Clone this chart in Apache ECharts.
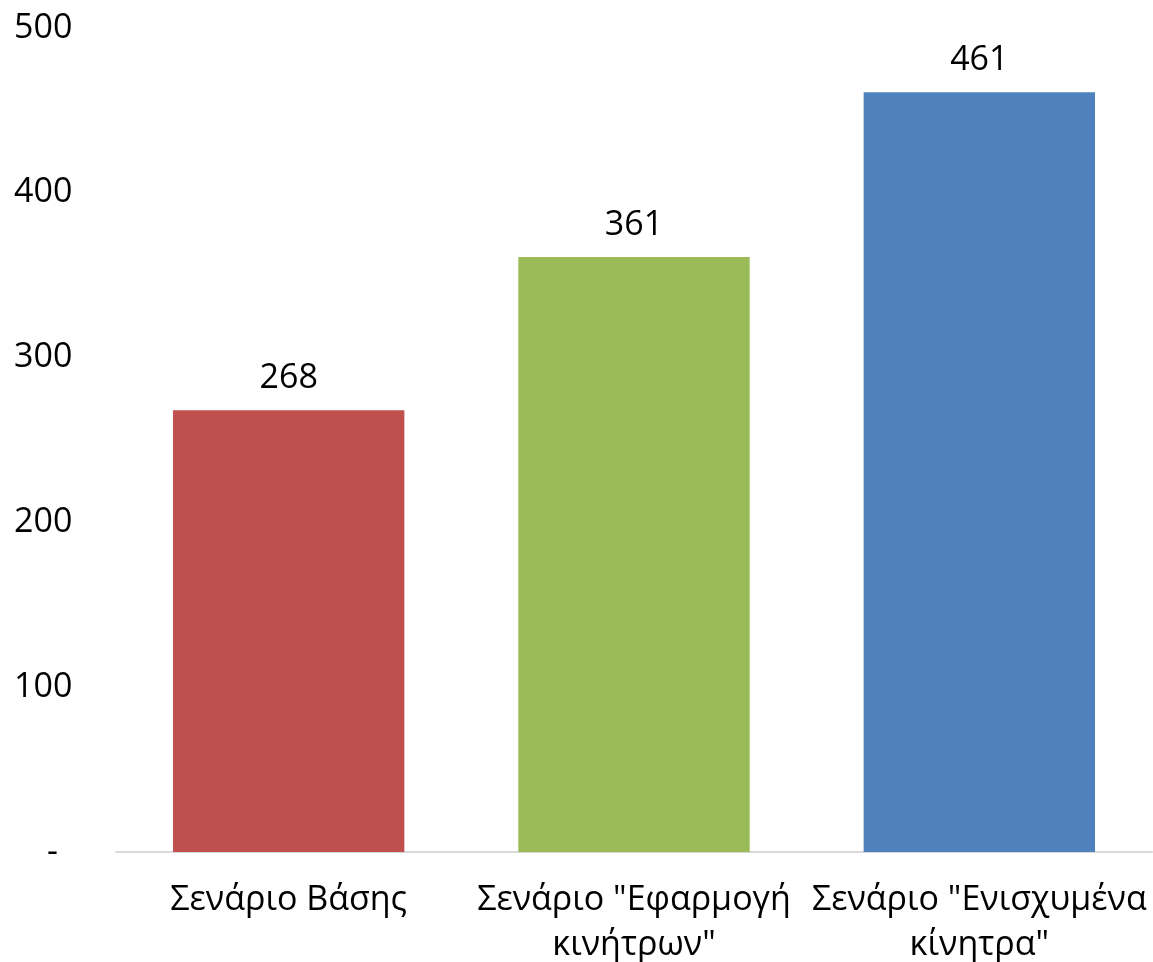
<!DOCTYPE html>
<html>
<head>
<meta charset="utf-8">
<script src="https://cdn.jsdelivr.net/npm/echarts@6/dist/echarts.min.js"></script>
<style>
  html, body { margin: 0; padding: 0; background: #fff; }
  #chart { width: 1153px; height: 962px; }
</style>
</head>
<body>
<div id="chart"></div>
<script>
// Scenario names (x axis)
const categories = ['Σενάριο Βάσης', 'Σενάριο "Εφαρμογή\nκινήτρων"', 'Σενάριο "Ενισχυμένα\nκίνητρα"'];
// Values per scenario
const values = [268, 361, 461];
// Bar colours, one per scenario
const barColors = ['#C0504D', '#9BBB59', '#4F81BD'];

const chart = echarts.init(document.getElementById('chart'));
const font = '"Open Sans", "Noto Sans", sans-serif';

const option = {
  animation: false,
  grid: { left: 116, right: 1, top: 28, bottom: 110, outerBoundsMode: 'none' },
  xAxis: {
    type: 'category',
    data: categories,
    axisLine: { lineStyle: { color: '#D9D9D9', width: 2 } },
    axisTick: { show: false },
    axisLabel: {
      interval: 0,
      color: '#000',
      fontFamily: font,
      fontSize: 34,
      lineHeight: 45,
      margin: 26
    }
  },
  yAxis: {
    type: 'value',
    min: 0,
    max: 500,
    interval: 100,
    splitLine: { show: false },
    axisLine: { show: false },
    axisTick: { show: false },
    axisLabel: {
      color: '#000',
      fontFamily: font,
      fontSize: 34,
      align: 'left',
      margin: 102,
      formatter: v => v === 0 ? '{z|-}' : String(v),
      rich: { z: { fontFamily: font, fontSize: 34, color: '#000', padding: [0, 0, 0, 33] } }
    }
  },
  series: [{
    type: 'bar',
    barWidth: '67%',
    data: values.map((v, i) => ({ value: v, itemStyle: { color: barColors[i] } })),
    label: {
      show: true,
      position: 'top',
      distance: 15,
      color: '#000',
      fontFamily: font,
      fontSize: 34
    }
  }]
};
chart.setOption(option);
</script>
</body>
</html>
